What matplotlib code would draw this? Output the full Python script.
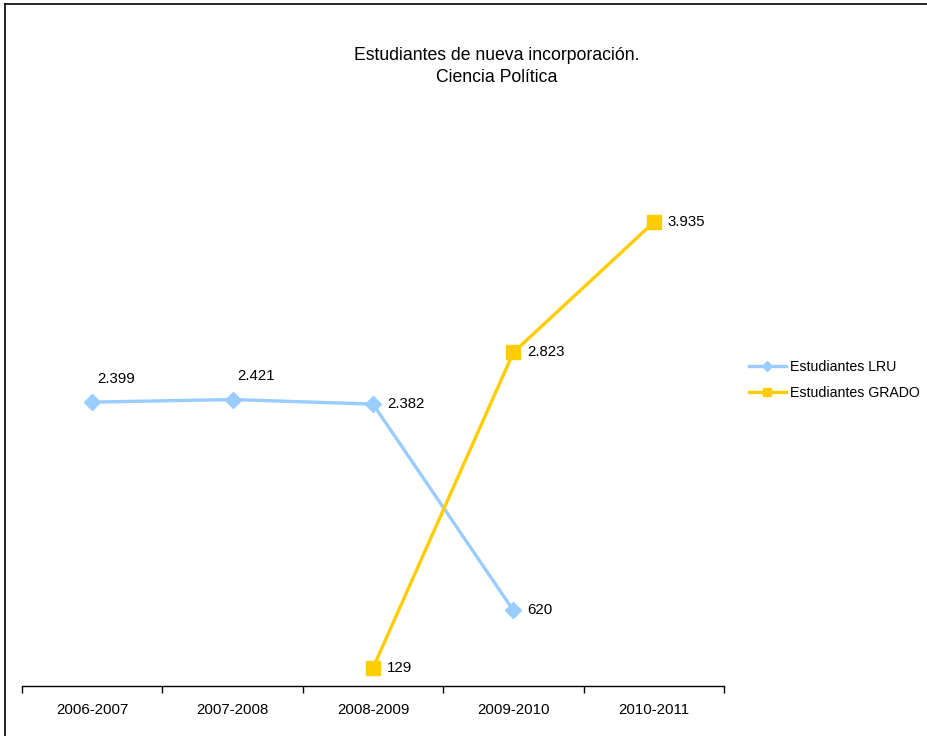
import numpy as np
import matplotlib.pyplot as plt
from matplotlib.lines import Line2D

plt.rcParams['font.family'] = ['Liberation Sans', 'DejaVu Sans']

cursos = ['2006-2007', '2007-2008', '2008-2009', '2009-2010', '2010-2011']
lru = [2399, 2421, 2382, 620]
grado = [129, 2823, 3935]
lru_x = [0, 1, 2, 3]
grado_x = [2, 3, 4]

W, H = 927, 736
fig = plt.figure(figsize=(W / 100, H / 100), dpi=100)

# axes placed in pixel terms: x axis from 22 to 724 at y=686
ax = fig.add_axes([22 / W, (H - 686) / H, (724 - 22) / W, (686 - 159) / H])
ax.set_xlim(-0.5, 4.5)
ax.set_ylim(-25, 4475)

c_lru = '#99CCFF'
c_gr = '#FFCC00'
l1, = ax.plot(lru_x, lru, color=c_lru, lw=2.4, marker='D', ms=8, mec=c_lru, label='Estudiantes LRU')
l2, = ax.plot(grado_x, grado, color=c_gr, lw=2.4, marker='s', ms=9.5, mec=c_gr, label='Estudiantes GRADO')

def fmt(v):
    return f'{v:,}'.replace(',', '.')

fs = 10.8
# LRU labels: first two above, the rest to the right
for x, v in zip(lru_x, lru):
    if x < 2:
        ax.annotate(fmt(v), (x, v), xytext=(17, 17), textcoords='offset points',
                    ha='center', va='center', fontsize=fs)
    else:
        ax.annotate(fmt(v), (x, v), xytext=(10, 0), textcoords='offset points',
                    ha='left', va='center', fontsize=fs)
for x, v in zip(grado_x, grado):
    ax.annotate(fmt(v), (x, v), xytext=(10, 0), textcoords='offset points',
                ha='left', va='center', fontsize=fs)

ax.set_xticks(np.arange(len(cursos)))
ax.set_xticklabels(cursos, fontsize=fs)
ax.set_xticks(np.arange(-0.5, 5, 1), minor=True)
ax.tick_params(axis='x', which='major', length=0, pad=12)
ax.tick_params(axis='x', which='minor', length=5, direction='out', width=1)
ax.set_yticks([])
for s in ['top', 'right', 'left']:
    ax.spines[s].set_visible(False)
ax.spines['bottom'].set_linewidth(1)

fig.text(497 / W, 1 - 55 / H, 'Estudiantes de nueva incorporación.', ha='center', va='center', fontsize=12.7)
fig.text(497 / W, 1 - 78 / H, 'Ciencia Política', ha='center', va='center', fontsize=12.7)

fig.legend(handles=[l1, l2], loc='center left', bbox_to_anchor=(736 / W, 1 - 380 / H),
           frameon=False, fontsize=10.2, handlelength=2.6, handletextpad=0.3,
           labelspacing=0.8, markerscale=0.6)

# chart border (left and top visible)
fig.add_artist(Line2D([5 / W, 5 / W], [0, 1 - 4 / H], color='black', lw=1.2, transform=fig.transFigure))
fig.add_artist(Line2D([5 / W, 1], [1 - 4 / H, 1 - 4 / H], color='black', lw=1.2, transform=fig.transFigure))

fig.savefig('out.png', dpi=100)
